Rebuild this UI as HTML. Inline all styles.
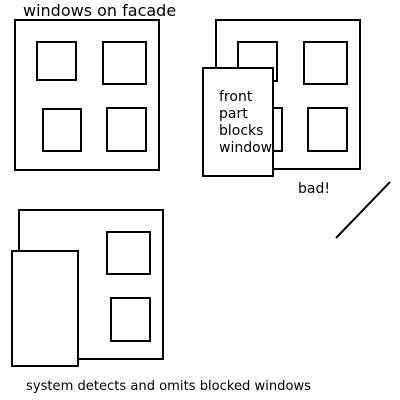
<!DOCTYPE html>
<html><head><meta charset="utf-8"><style>
html,body{margin:0;padding:0;background:#fff;width:400px;height:400px;overflow:hidden}
text{font-family:"DejaVu Sans","Liberation Sans",sans-serif;font-size:14px;fill:#000}
</style></head><body>
<svg width="400" height="400" viewBox="0 0 400 400" fill="none" stroke="#000" stroke-width="2">
<text x="23" y="16" stroke="none" style="font-size:16px">windows on facade</text>
<g>
<rect x="15" y="20" width="144" height="150"/>
<rect x="37" y="42" width="39" height="38"/>
<rect x="103" y="42" width="43" height="42"/>
<rect x="43" y="109" width="38" height="42"/>
<rect x="107" y="108" width="39" height="43"/>
</g>
<g>
<rect x="216" y="20" width="144" height="149"/>
<rect x="238" y="42" width="39" height="39"/>
<rect x="304" y="42" width="43" height="42"/>
<rect x="240" y="108" width="42" height="43"/>
<rect x="308" y="108" width="39" height="43"/>
<rect x="203" y="68" width="70" height="108" fill="#fff"/>
<text x="219" y="101" stroke="none">front</text>
<text x="219" y="118" stroke="none">part</text>
<text x="219" y="135" stroke="none">blocks</text>
<text x="219" y="152" stroke="none">window</text>
</g>
<text x="298" y="193" stroke="none">bad!</text>
<line x1="336" y1="238" x2="390" y2="182"/>
<g>
<rect x="19" y="210" width="144" height="149"/>
<rect x="107" y="232" width="43" height="42"/>
<rect x="111" y="298" width="39" height="43"/>
<rect x="12" y="251" width="66" height="115" fill="#fff"/>
</g>
<text x="26" y="390" stroke="none" style="font-size:13.1px">system detects and omits blocked windows</text>
</svg>
</body></html>
